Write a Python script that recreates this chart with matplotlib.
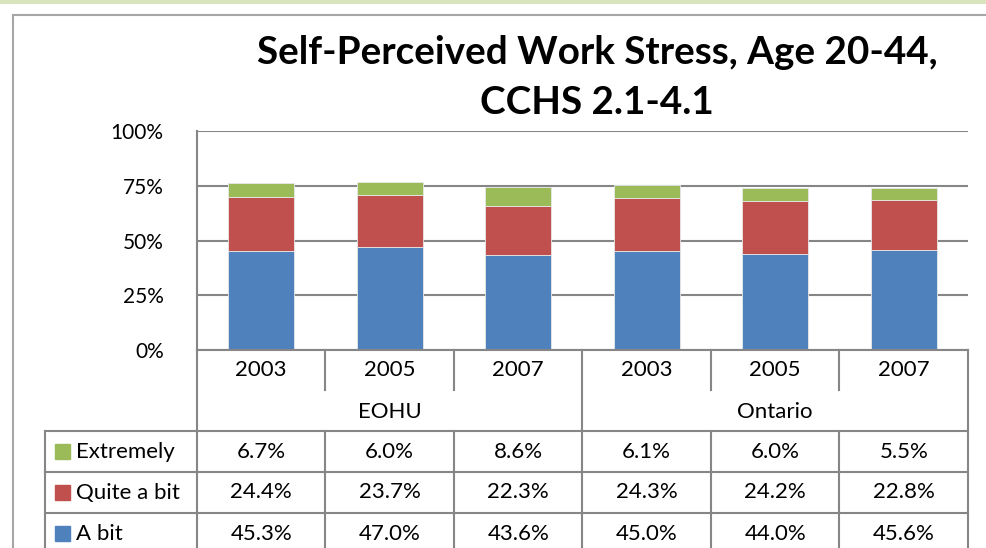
import numpy as np
import matplotlib.pyplot as plt
from matplotlib.lines import Line2D
from matplotlib.patches import Rectangle

plt.rcParams['font.family'] = ['Lato', 'DejaVu Sans']

years = ['2003', '2005', '2007', '2003', '2005', '2007']
groups = ['EOHU', 'Ontario']
series = ['Extremely', 'Quite a bit', 'A bit']
extremely = [6.7, 6.0, 8.6, 6.1, 6.0, 5.5]
quite = [24.4, 23.7, 22.3, 24.3, 24.2, 22.8]
abit = [45.3, 47.0, 43.6, 45.0, 44.0, 45.6]
colors = {'A bit': '#4f81bd', 'Quite a bit': '#c0504d', 'Extremely': '#9bbb59'}
values = {'Extremely': extremely, 'Quite a bit': quite, 'A bit': abit}

W, H = 987, 548
fig = plt.figure(figsize=(W / 100, H / 100), dpi=100)

def px(x0, y0, x1, y1):
    return [x0 / W, 1 - y1 / H, (x1 - x0) / W, (y1 - y0) / H]

grid_c = '#868686'
fsz = 15
tsz = 16

# outer decoration
fig.add_artist(Rectangle((0, 1 - 4 / H), 1, 4 / H, transform=fig.transFigure,
                         color='#d7e4bd', lw=0))
fig.add_artist(Line2D([13 / W, 13 / W], [0, 1 - 15 / H], transform=fig.transFigure,
                      color='#a6a6a6', lw=1.5))
fig.add_artist(Line2D([13 / W, 1], [1 - 15 / H, 1 - 15 / H], transform=fig.transFigure,
                      color='#a6a6a6', lw=1.5))

# main chart
ax = fig.add_axes(px(197, 131, 968, 350))
x = np.arange(len(years))
bottom = np.zeros(len(years))
for s in ['A bit', 'Quite a bit', 'Extremely']:
    v = np.array(values[s]) / 100
    ax.bar(x, v, width=0.51, bottom=bottom, color=colors[s],
           edgecolor='#e8e8e8', linewidth=0.6, zorder=3)
    bottom += v
ax.set_xlim(-0.5, len(years) - 0.5)
ax.set_ylim(0, 1)
ax.set_yticks([0, 0.25, 0.5, 0.75, 1.0])
ax.set_yticklabels(['0%', '25%', '50%', '75%', '100%'])
ax.set_xticks([])
ax.tick_params(axis='y', length=0, pad=24, labelsize=fsz)
ax.grid(axis='y', color=grid_c, lw=1.5, zorder=0)
for side in ['right', 'bottom', 'top']:
    ax.spines[side].set_visible(False)
ax.spines['left'].set_color(grid_c)
ax.spines['left'].set_linewidth(1.5)

# data table below the chart
tab = fig.add_axes(px(197, 350, 968, 548))
tab.set_xlim(-0.5, len(years) - 0.5)
tab.set_ylim(198, 0)
tab.axis('off')
rows = [0, 40, 81, 122, 163, 204]
lw = 1.5
lft = -0.5 - 152 / (771 / 6)

def ln(xs, ys):
    tab.add_line(Line2D(xs, ys, color=grid_c, lw=lw, clip_on=False))

ln([-0.5, 5.5], [0, 0])
ln([-0.5, -0.5], [0, 198])
ln([5.5, 5.5], [0, 198])
ln([2.5, 2.5], [0, 198])
for k in [0.5, 1.5, 3.5, 4.5]:
    ln([k, k], [0, rows[1]])
    ln([k, k], [rows[2], 198])
for r in rows[2:5]:
    ln([lft, 5.5], [r, r])
ln([lft, lft], [rows[2], 198])

for i, yr in enumerate(years):
    tab.text(i, (rows[0] + rows[1]) / 2, yr, ha='center', va='center', fontsize=tsz)
for g, name in enumerate(groups):
    tab.text(g * 3 + 1, (rows[1] + rows[2]) / 2 + 1, name, ha='center', va='center',
             fontsize=tsz)
cellw = 771 / 6
for j, s in enumerate(series):
    yc = (rows[2 + j] + rows[3 + j]) / 2
    tab.add_patch(Rectangle((lft + 10 / cellw, yc - 7.5), 15 / cellw, 15,
                            color=colors[s], clip_on=False))
    tab.text(lft + 31 / cellw, yc, s, ha='left', va='center', fontsize=tsz)
    for i, v in enumerate(values[s]):
        tab.text(i, yc, f'{v:.1f}%', ha='center', va='center', fontsize=tsz)

fig.text(597 / W, 1 - 52 / H, 'Self-Perceived Work Stress, Age 20-44,', ha='center',
         va='center', fontsize=27.8, fontweight='bold')
fig.text(597 / W, 1 - 102 / H, 'CCHS 2.1-4.1', ha='center', va='center',
         fontsize=27.8, fontweight='bold')

fig.savefig('out.png', dpi=100)
